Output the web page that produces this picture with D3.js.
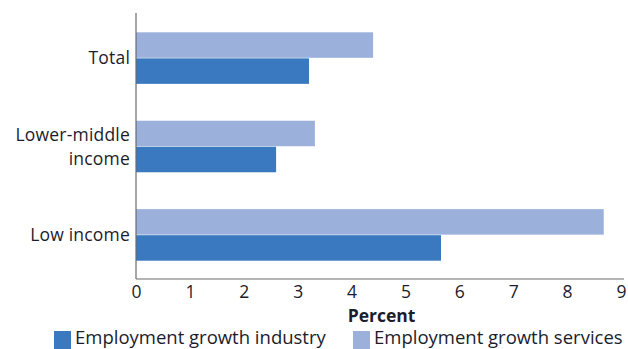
<!DOCTYPE html>
<html>
<head>
<meta charset="utf-8">
<script src="https://cdn.jsdelivr.net/npm/d3@7"></script>
<style>
body { margin: 0; background: #fff; }
text { font-family: "Open Sans", "Noto Sans", sans-serif; fill: #1c1c2c; }
</style>
</head>
<body>
<div id="chart"></div>
<script>
var width = 628,
	height = 349;

// data
var categories = ["Total", "Lower-middle income", "Low income"];
var categoryLines = [["Total"], ["Lower-middle", "income"], ["Low income"]];
var seriesNames = ["Employment growth services", "Employment growth industry"];
var services = [4.4, 3.32, 8.68];
var industry = [3.21, 2.6, 5.66];
var ticks = [0, 1, 2, 3, 4, 5, 6, 7, 8, 9];

var colors = {"Employment growth services": "#9bb1dc", "Employment growth industry": "#3a79bf"};

var svg = d3.select("#chart").append("svg")
	.attr("width", width)
	.attr("height", height);

var x = d3.scaleLinear()
	.domain([0, 9])
	.range([136, 621]);

var y = d3.scaleBand()
	.domain(categories)
	.range([14, 279])
	.paddingInner(0.417)
	.paddingOuter(0.207);

var ySub = d3.scaleBand()
	.domain(seriesNames)
	.range([0, y.bandwidth()])
	.paddingInner(0.02);

var rows = categories.map(function(c, i){
	return {cat: c, values: [
		{name: seriesNames[0], v: services[i]},
		{name: seriesNames[1], v: industry[i]}
	]};
});

// bars
var groups = svg.selectAll(".grp")
	.data(rows)
	.enter()
	.append("g")
	.attr("class", "grp")
	.attr("transform", function(d){ return "translate(0," + y(d.cat) + ")"; });

groups.selectAll("rect")
	.data(function(d){ return d.values; })
	.enter()
	.append("rect")
	.attr("x", x(0))
	.attr("y", function(d){ return ySub(d.name); })
	.attr("width", function(d){ return x(d.v) - x(0); })
	.attr("height", ySub.bandwidth())
	.attr("fill", function(d){ return colors[d.name]; });

// axes
var xAxis = svg.append("g")
	.attr("transform", "translate(0,279)")
	.call(d3.axisBottom(x).tickValues(ticks).tickSize(0).tickPadding(7).tickFormat(d3.format("d")));
xAxis.select(".domain").attr("stroke", "#6b6b6b").attr("stroke-width", 1.2)
	.attr("d", "M" + x(0) + ",0H624");
xAxis.selectAll("text")
	.attr("font-size", "17.5px")
	.attr("font-family", null)
	.attr("fill", "#1c1c2c");

svg.append("line")
	.attr("x1", x(0)).attr("x2", x(0))
	.attr("y1", 13).attr("y2", 279)
	.attr("stroke", "#6b6b6b")
	.attr("stroke-width", 1.2);

// category labels, one text per line
var labelLines = [];
categories.forEach(function(c, i){
	var lines = categoryLines[i];
	lines.forEach(function(l, j){
		labelLines.push({cat: c, text: l, off: j - (lines.length - 1) / 2});
	});
});

svg.selectAll(".cat")
	.data(labelLines)
	.enter()
	.append("text")
	.attr("class", "cat")
	.attr("text-anchor", "end")
	.attr("font-size", "17.5px")
	.attr("letter-spacing", "0.2px")
	.attr("x", 130)
	.attr("y", function(d){ return y(d.cat) + y.bandwidth() / 2 + d.off * 24; })
	.attr("dy", "0.35em")
	.text(function(d){ return d.text; });

// axis title
svg.append("text")
	.attr("x", (x(0) + x(9)) / 2 + 3)
	.attr("y", 322)
	.attr("text-anchor", "middle")
	.attr("font-size", "17.5px")
	.attr("font-weight", "bold")
	.text("Percent");

// legend
var legendItems = [
	{name: "Employment growth industry", x: 54},
	{name: "Employment growth services", x: 353}
];
var legend = svg.selectAll(".legend")
	.data(legendItems)
	.enter()
	.append("g")
	.attr("class", "legend")
	.attr("transform", function(d){ return "translate(" + d.x + ",331)"; });

legend.append("rect")
	.attr("width", 17)
	.attr("height", 18)
	.attr("fill", function(d){ return colors[d.name]; });
legend.append("text")
	.attr("x", 21)
	.attr("y", 13)
	.attr("font-size", "18.5px")
	.text(function(d){ return d.name; });
</script>
</body>
</html>
